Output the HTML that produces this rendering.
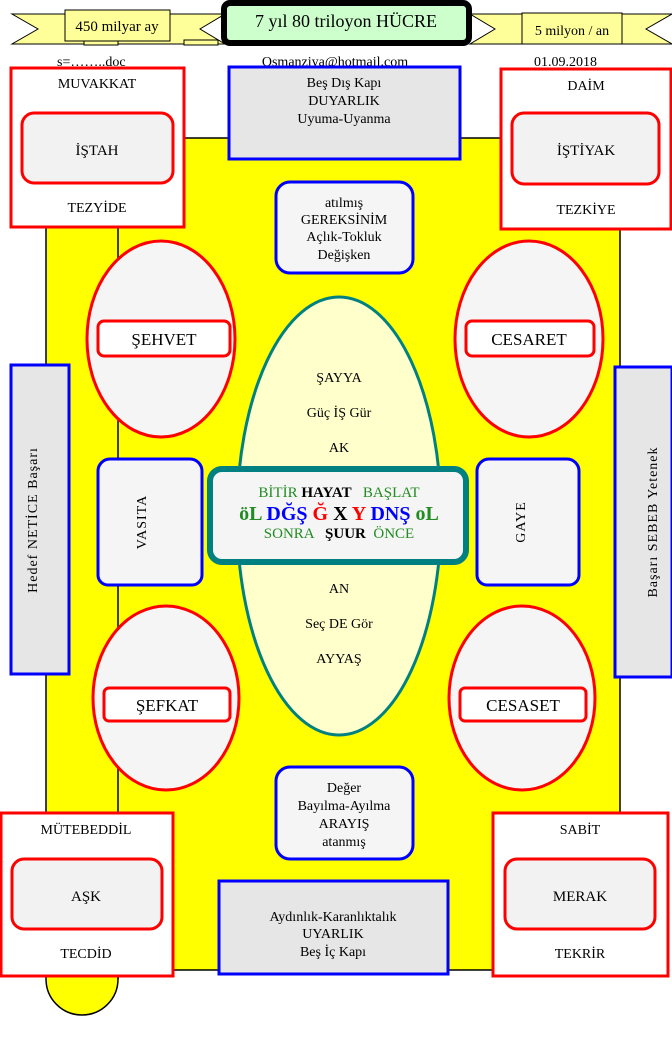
<!DOCTYPE html>
<html><head><meta charset="utf-8"><style>
html,body{margin:0;padding:0;background:#fff}
svg{display:block}
text{font-family:"Liberation Serif",serif;fill:#000}
</style></head><body>
<svg width="672" height="1042" viewBox="0 0 672 1042" xmlns="http://www.w3.org/2000/svg" font-size="14">
<path d="M46,138 H620 V970 H118 V979 A36,36 0 0 1 46,979 Z" fill="#ffff00" stroke="#000" stroke-width="1.5"/>
<line x1="118" y1="138" x2="118" y2="979" stroke="#000" stroke-width="1.5"/>

<polygon points="12,14 225,14 200,29 225,44 12,44 38,29" fill="#ffff99" stroke="#000" stroke-width="1"/>
<rect x="84" y="40" width="34" height="5" fill="#ffff99" stroke="#000"/>
<rect x="184" y="40" width="34" height="5" fill="#ffff99" stroke="#000"/>
<rect x="65" y="10" width="105" height="31" fill="#ffff99" stroke="#000"/>
<text x="117" y="31" text-anchor="middle" font-size="15">450 milyar ay</text>
<polygon points="470,14 672,14 646,29 672,44 470,44 495,29" fill="#ffff99" stroke="#000"/>
<rect x="522" y="13" width="100" height="31" fill="#ffff99" stroke="#000"/>
<text x="572" y="35" text-anchor="middle" font-size="14">5 milyon / an</text>
<rect x="224" y="3" width="245" height="40" rx="6" fill="#ccffcc" stroke="#000" stroke-width="6"/>
<text x="346" y="27" text-anchor="middle" font-size="18">7 yıl 80 triloyon HÜCRE</text>

<text x="57" y="66" font-size="14">s=……..doc</text>
<text x="335" y="66" text-anchor="middle" font-size="14">Osmanziya@hotmail.com</text>
<text x="534" y="66" font-size="14">01.09.2018</text>

<rect x="11" y="68" width="173" height="159" fill="#fff" stroke="#ff0000" stroke-width="3"/>
<text x="97" y="88" text-anchor="middle">MUVAKKAT</text>
<rect x="22" y="113" width="151" height="70" rx="12" fill="#f2f2f2" stroke="#ff0000" stroke-width="3"/>
<text x="97" y="155" text-anchor="middle" font-size="15">İŞTAH</text>
<text x="97" y="212" text-anchor="middle">TEZYİDE</text>

<rect x="501" y="69" width="170" height="160" fill="#fff" stroke="#ff0000" stroke-width="3"/>
<text x="586" y="90" text-anchor="middle">DAİM</text>
<rect x="512" y="113" width="147" height="71" rx="12" fill="#f2f2f2" stroke="#ff0000" stroke-width="3"/>
<text x="586" y="155" text-anchor="middle" font-size="15">İŞTİYAK</text>
<text x="586" y="214" text-anchor="middle">TEZKİYE</text>

<rect x="229" y="67" width="231" height="92" fill="#e6e6e6" stroke="#0000ff" stroke-width="3"/>
<text x="344" y="87" text-anchor="middle">Beş Dış Kapı</text>
<text x="344" y="105" text-anchor="middle">DUYARLIK</text>
<text x="344" y="123" text-anchor="middle">Uyuma-Uyanma</text>

<rect x="276" y="182" width="137" height="91" rx="14" fill="#f5f5f5" stroke="#0000ff" stroke-width="3"/>
<text x="344" y="207" text-anchor="middle">atılmış</text>
<text x="344" y="224" text-anchor="middle">GEREKSİNİM</text>
<text x="344" y="241" text-anchor="middle">Açlık-Tokluk</text>
<text x="344" y="259" text-anchor="middle">Değişken</text>

<ellipse cx="161" cy="339" rx="74" ry="98" fill="#f5f5f5" stroke="#ff0000" stroke-width="3"/>
<rect x="98" y="321" width="132" height="35" rx="6" fill="#fff" stroke="#ff0000" stroke-width="3"/>
<text x="164" y="345" text-anchor="middle" font-size="17">ŞEHVET</text>
<ellipse cx="529" cy="339" rx="74" ry="98" fill="#f5f5f5" stroke="#ff0000" stroke-width="3"/>
<rect x="466" y="321" width="128" height="35" rx="6" fill="#fff" stroke="#ff0000" stroke-width="3"/>
<text x="529" y="345" text-anchor="middle" font-size="17">CESARET</text>

<rect x="11" y="365" width="58" height="309" fill="#e6e6e6" stroke="#0000ff" stroke-width="3"/>
<text transform="translate(37,520) rotate(-90)" text-anchor="middle" font-size="14" letter-spacing="1">Hedef  NETİCE Başarı</text>
<rect x="615" y="367" width="57" height="310" fill="#e6e6e6" stroke="#0000ff" stroke-width="3"/>
<text transform="translate(657,522) rotate(-90)" text-anchor="middle" font-size="14" letter-spacing="1">Başarı  SEBEB  Yetenek</text>

<ellipse cx="339" cy="516" rx="102" ry="219" fill="#ffffcc" stroke="#008080" stroke-width="3"/>
<text x="339" y="382" text-anchor="middle">ŞAYYA</text>
<text x="339" y="417" text-anchor="middle">Güç İŞ Gür</text>
<text x="339" y="452" text-anchor="middle">AK</text>
<text x="339" y="593" text-anchor="middle">AN</text>
<text x="339" y="628" text-anchor="middle">Seç DE Gör</text>
<text x="339" y="663" text-anchor="middle">AYYAŞ</text>

<path d="M98,471 a12,12 0 0 1 12,-12 H190 a12,12 0 0 1 12,12 V575 a10,10 0 0 1 -10,10 H108 a10,10 0 0 1 -10,-10 Z" fill="#f5f5f5" stroke="#0000ff" stroke-width="3"/>
<text transform="translate(146,522) rotate(-90)" text-anchor="middle" font-size="14" letter-spacing="1">VASITA</text>
<path d="M477,471 a12,12 0 0 1 12,-12 H567 a12,12 0 0 1 12,12 V575 a10,10 0 0 1 -10,10 H487 a10,10 0 0 1 -10,-10 Z" fill="#f5f5f5" stroke="#0000ff" stroke-width="3"/>
<text transform="translate(525,522) rotate(-90)" text-anchor="middle" font-size="14" letter-spacing="1">GAYE</text>

<rect x="210" y="469" width="256" height="93" rx="12" fill="#f5f5f5" stroke="#008080" stroke-width="6"/>
<text x="339" y="497" text-anchor="middle" font-size="15" xml:space="preserve"><tspan fill="#228b22">BİTİR </tspan><tspan font-weight="bold">HAYAT</tspan><tspan fill="#228b22">   BAŞLAT</tspan></text>
<text x="339" y="520" text-anchor="middle" font-size="20" font-weight="bold"><tspan fill="#228b22">öL </tspan><tspan fill="#0000ff">DĞŞ </tspan><tspan fill="#ff0000">Ğ </tspan><tspan>X </tspan><tspan fill="#ff0000">Y </tspan><tspan fill="#0000ff">DNŞ </tspan><tspan fill="#228b22">oL</tspan></text>
<text x="339" y="538" text-anchor="middle" font-size="15" xml:space="preserve"><tspan fill="#228b22">SONRA  </tspan><tspan font-weight="bold"> ŞUUR </tspan><tspan fill="#228b22"> ÖNCE</tspan></text>

<ellipse cx="166" cy="698" rx="73" ry="92" fill="#f5f5f5" stroke="#ff0000" stroke-width="3"/>
<rect x="104" y="688" width="126" height="33" rx="5" fill="#fff" stroke="#ff0000" stroke-width="3"/>
<text x="167" y="711" text-anchor="middle" font-size="17">ŞEFKAT</text>
<ellipse cx="522" cy="698" rx="73" ry="92" fill="#f5f5f5" stroke="#ff0000" stroke-width="3"/>
<rect x="460" y="688" width="126" height="33" rx="5" fill="#fff" stroke="#ff0000" stroke-width="3"/>
<text x="523" y="711" text-anchor="middle" font-size="17">CESASET</text>

<rect x="276" y="767" width="137" height="92" rx="14" fill="#f5f5f5" stroke="#0000ff" stroke-width="3"/>
<text x="344" y="792" text-anchor="middle">Değer</text>
<text x="344" y="810" text-anchor="middle">Bayılma-Ayılma</text>
<text x="344" y="828" text-anchor="middle">ARAYIŞ</text>
<text x="344" y="846" text-anchor="middle">atanmış</text>

<rect x="1" y="813" width="172" height="163" fill="#fff" stroke="#ff0000" stroke-width="3"/>
<text x="86" y="834" text-anchor="middle">MÜTEBEDDİL</text>
<rect x="12" y="859" width="150" height="70" rx="12" fill="#f2f2f2" stroke="#ff0000" stroke-width="3"/>
<text x="86" y="901" text-anchor="middle" font-size="15">AŞK</text>
<text x="86" y="958" text-anchor="middle">TECDİD</text>
<rect x="493" y="813" width="175" height="163" fill="#fff" stroke="#ff0000" stroke-width="3"/>
<text x="580" y="834" text-anchor="middle">SABİT</text>
<rect x="505" y="859" width="150" height="70" rx="12" fill="#f2f2f2" stroke="#ff0000" stroke-width="3"/>
<text x="580" y="901" text-anchor="middle" font-size="15">MERAK</text>
<text x="580" y="958" text-anchor="middle">TEKRİR</text>

<rect x="219" y="881" width="229" height="93" fill="#e6e6e6" stroke="#0000ff" stroke-width="3"/>
<text x="333" y="921" text-anchor="middle">Aydınlık-Karanlıktalık</text>
<text x="333" y="938" text-anchor="middle">UYARLIK</text>
<text x="333" y="956" text-anchor="middle">Beş İç Kapı</text>
</svg>
</body></html>
